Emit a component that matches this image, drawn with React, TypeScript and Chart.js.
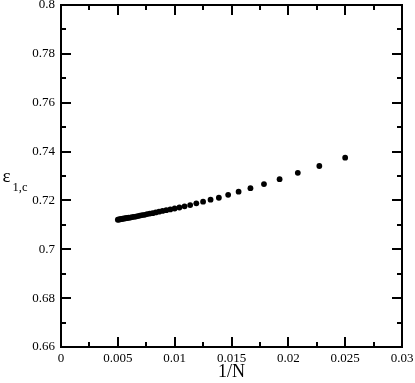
import { useEffect, useRef } from "react";
import { Chart, registerables } from "chart.js";

Chart.register(...registerables);

// 1/N values
const invN = [
  0.025, 0.022727, 0.020833, 0.019231, 0.017857, 0.016667, 0.015625, 0.014706,
  0.013889, 0.013158, 0.0125, 0.011905, 0.011364, 0.01087, 0.010417, 0.01,
  0.009615, 0.009259, 0.008929, 0.008621, 0.008333, 0.008065, 0.0078125,
  0.007576, 0.007353, 0.007143, 0.006944, 0.006757, 0.006579, 0.00641,
  0.00625, 0.006098, 0.005952, 0.005814, 0.005682, 0.005556, 0.005435,
  0.005319, 0.005208, 0.005102, 0.005,
];

// epsilon_{1,c}
const eps1c = [
  0.7375, 0.7341, 0.7313, 0.7287, 0.7267, 0.725, 0.7236, 0.7223,
  0.7211, 0.7203, 0.7195, 0.7188, 0.7181, 0.7176, 0.7171, 0.7167,
  0.7163, 0.716, 0.7157, 0.7154, 0.7151, 0.7148, 0.7146,
  0.7144, 0.7141, 0.714, 0.7138, 0.7136, 0.7134, 0.7133,
  0.7132, 0.713, 0.7129, 0.7128, 0.7127, 0.7126, 0.7125,
  0.7124, 0.7123, 0.7122, 0.7121,
];

const xTickValues = [0, 0.005, 0.01, 0.015, 0.02, 0.025, 0.03];
const xTickLabels = ["0", "0.005", "0.01", "0.015", "0.02", "0.025", "0.03"];
const xMinorValues = [0.0025, 0.0075, 0.0125, 0.0175, 0.0225, 0.0275];
const yTickValues = [0.66, 0.68, 0.7, 0.72, 0.74, 0.76, 0.78, 0.8];
const yTickLabels = ["0.66", "0.68", "0.7", "0.72", "0.74", "0.76", "0.78", "0.8"];
const yMinorValues = [0.67, 0.69, 0.71, 0.73, 0.75, 0.77, 0.79];

const xTitle = "1/N";
const yTitleMain = "ε";
const yTitleSub = "1,c";

const FONT = "'Liberation Serif', 'DejaVu Serif', serif";

const framePlugin = {
  id: "frameTicks",
  afterDraw(chart: any) {
    const { ctx, chartArea } = chart;
    const { left, right, top, bottom } = chartArea;
    const xs = chart.scales.x;
    const ys = chart.scales.y;
    ctx.save();
    ctx.strokeStyle = "#000";
    ctx.lineWidth = 2;
    const major = 10;
    const minor = 5;
    ctx.beginPath();
    const xt = (vals: number[], len: number) => {
      vals.forEach((v) => {
        const px = Math.round(xs.getPixelForValue(v));
        ctx.moveTo(px, bottom);
        ctx.lineTo(px, bottom - len);
        ctx.moveTo(px, top);
        ctx.lineTo(px, top + len);
      });
    };
    const yt = (vals: number[], len: number) => {
      vals.forEach((v) => {
        const py = Math.round(ys.getPixelForValue(v));
        ctx.moveTo(left, py);
        ctx.lineTo(left + len, py);
        ctx.moveTo(right, py);
        ctx.lineTo(right - len, py);
      });
    };
    xt(xTickValues, major);
    xt(xMinorValues, minor);
    yt(yTickValues, major);
    yt(yMinorValues, minor);
    ctx.stroke();
    ctx.strokeRect(left, top, right - left, bottom - top);

    // y-axis title: epsilon with subscript
    ctx.fillStyle = "#000";
    ctx.textBaseline = "alphabetic";
    ctx.textAlign = "left";
    ctx.font = `19px ${FONT}`;
    ctx.fillText(yTitleMain, 2.5, 182);
    ctx.font = `12.5px ${FONT}`;
    ctx.fillText(yTitleSub, 12.5, 190.5);
    ctx.restore();
  },
};

export default function App() {
  const ref = useRef<HTMLCanvasElement | null>(null);
  useEffect(() => {
    if (!ref.current) return;
    const chart = new Chart(ref.current, {
      type: "scatter",
      data: {
        datasets: [
          {
            data: invN.map((x, i) => ({ x, y: eps1c[i] })),
            backgroundColor: "#000",
            borderColor: "#000",
            pointRadius: 2.9,
            pointBorderWidth: 0,
          },
        ],
      },
      options: {
        animation: false,
        responsive: false,
        devicePixelRatio: 1,
        layout: { padding: { left: 0, right: 13, top: 5, bottom: 0 } },
        plugins: { legend: { display: false }, tooltip: { enabled: false } },
        scales: {
          x: {
            type: "linear",
            min: 0,
            max: 0.03,
            grid: { display: false, drawTicks: false },
            border: { display: false },
            afterBuildTicks: (s: any) => {
              s.ticks = xTickValues.map((v) => ({ value: v }));
            },
            ticks: {
              autoSkip: false,
              maxRotation: 0,
              padding: 4,
              color: "#000",
              font: { family: FONT, size: 13 },
              callback: (_v: any, i: number) => xTickLabels[i],
            },
            title: {
              display: true,
              text: xTitle,
              color: "#000",
              font: { family: FONT, size: 18 },
              padding: { top: 0, bottom: 0 },
            },
            afterFit: (s: any) => {
              s.height = 36;
              s.paddingLeft = 0;
              s.paddingRight = 0;
            },
          },
          y: {
            type: "linear",
            min: 0.66,
            max: 0.8,
            grid: { display: false, drawTicks: false },
            border: { display: false },
            afterBuildTicks: (s: any) => {
              s.ticks = yTickValues.map((v) => ({ value: v }));
            },
            ticks: {
              autoSkip: false,
              padding: 6,
              color: "#000",
              font: { family: FONT, size: 13 },
              callback: (_v: any, i: number) => yTickLabels[i],
            },
            afterFit: (s: any) => {
              s.width = 61;
              s.paddingTop = 0;
              s.paddingBottom = 0;
            },
          },
        },
      },
      plugins: [framePlugin],
    });
    return () => chart.destroy();
  }, []);
  return (
    <div style={{ position: "fixed", left: 0, top: 0, width: 415, height: 383, background: "#fff" }}>
      <canvas ref={ref} width={415} height={383} style={{ display: "block" }} />
    </div>
  );
}
